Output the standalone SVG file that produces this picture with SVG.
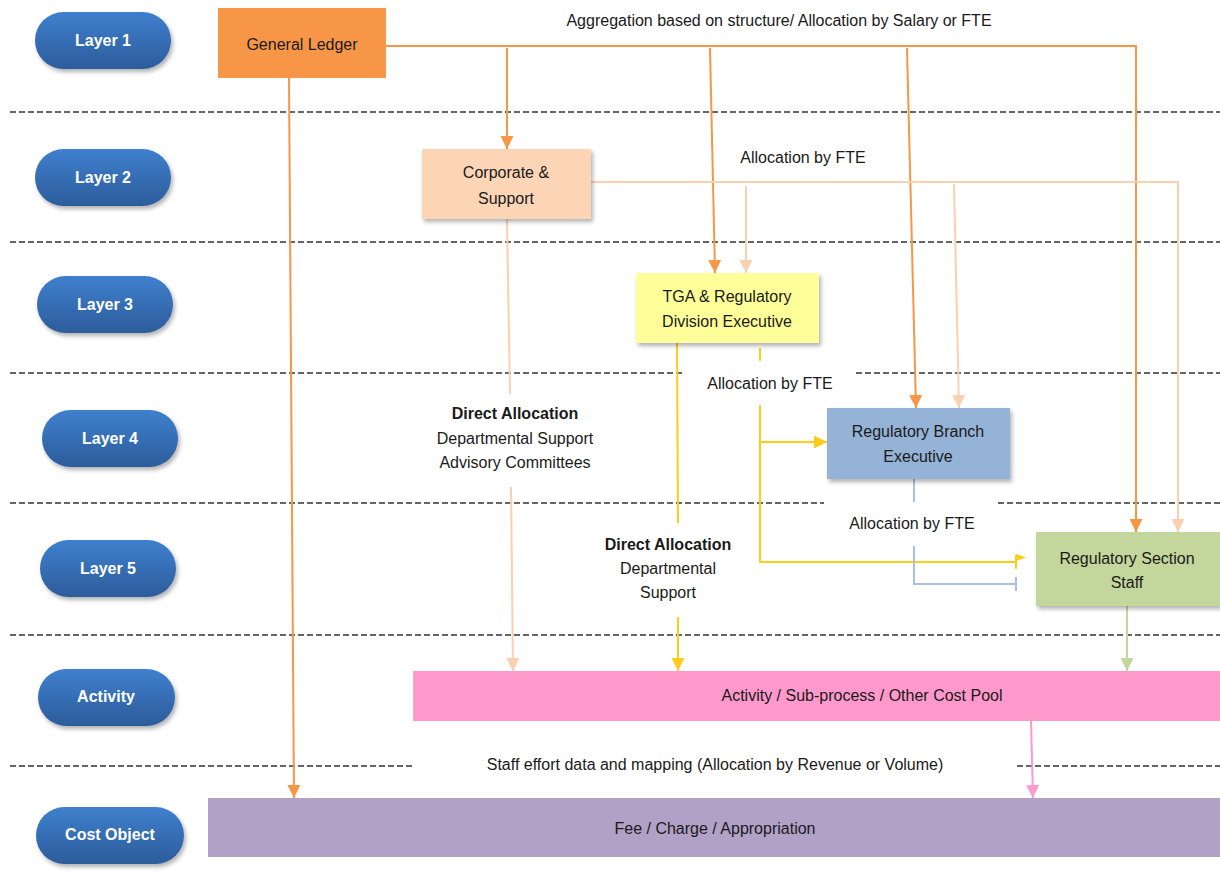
<svg xmlns="http://www.w3.org/2000/svg" width="1220" height="892" viewBox="0 0 1220 892">
<defs>
<linearGradient id="pillGrad" x1="0" y1="0" x2="0" y2="1">
<stop offset="0" stop-color="#3F80CE"/>
<stop offset="1" stop-color="#2C5C9B"/>
</linearGradient>
<filter id="shadow" x="-10%" y="-10%" width="125%" height="140%">
<feDropShadow dx="2" dy="3" stdDeviation="2" flood-color="#000" flood-opacity="0.3"/>
</filter>
<marker id="aOrange" markerUnits="userSpaceOnUse" markerWidth="13" markerHeight="13" refX="13" refY="6.5" orient="auto"><path d="M0,0 L13,6.5 L0,13 z" fill="#F79646"/></marker>
<marker id="aPeach" markerUnits="userSpaceOnUse" markerWidth="13" markerHeight="13" refX="13" refY="6.5" orient="auto"><path d="M0,0 L13,6.5 L0,13 z" fill="#FAD0B0"/></marker>
<marker id="aYellow" markerUnits="userSpaceOnUse" markerWidth="13" markerHeight="13" refX="13" refY="6.5" orient="auto"><path d="M0,0 L13,6.5 L0,13 z" fill="#FFCC1A"/></marker>
<marker id="aGreen" markerUnits="userSpaceOnUse" markerWidth="13" markerHeight="13" refX="13" refY="6.5" orient="auto"><path d="M0,0 L13,6.5 L0,13 z" fill="#C3D69B"/></marker>
<marker id="aPink" markerUnits="userSpaceOnUse" markerWidth="13" markerHeight="13" refX="13" refY="6.5" orient="auto"><path d="M0,0 L13,6.5 L0,13 z" fill="#FF99CC"/></marker>
</defs>
<style>
text { font-family: "Liberation Sans", Arial, sans-serif; font-size: 16px; fill: #1a1a1a; text-anchor: middle; }
.pill { fill: url(#pillGrad); filter: url(#shadow); }
.pilltxt { fill: #ffffff; font-weight: bold; font-size: 16px; }
.bold { font-weight: bold; }
.lane { stroke: #333; stroke-width: 1.5; stroke-dasharray: 6 3; fill: none; }
.box { filter: url(#shadow); }
.c { fill: none; stroke-width: 2; }
.orange { stroke: #F79646; }
.peach { stroke: #FAD0B0; }
.yellow { stroke: #FFCC1A; }
.blue { stroke: #A9C1E0; }
.green { stroke: #C3D69B; }
.pink { stroke: #FF99CC; }
</style>
<rect x="0" y="0" width="1220" height="892" fill="#ffffff"/>

<g id="lanes">
<line class="lane" x1="10" y1="112" x2="1220" y2="112"/>
<line class="lane" x1="10" y1="242" x2="1220" y2="242"/>
<line class="lane" x1="10" y1="373" x2="683" y2="373"/>
<line class="lane" x1="856" y1="373" x2="1220" y2="373"/>
<line class="lane" x1="10" y1="503" x2="824" y2="503"/>
<line class="lane" x1="998" y1="503" x2="1220" y2="503"/>
<line class="lane" x1="10" y1="635" x2="1220" y2="635"/>
<line class="lane" x1="10" y1="766" x2="413" y2="766"/>
<line class="lane" x1="1017" y1="766" x2="1220" y2="766"/>
</g>

<g id="layer-labels">
<g id="pill-layer1"><rect class="pill" x="35" y="12" width="136" height="57" rx="28.5"/><text class="pilltxt" x="103" y="46">Layer 1</text></g>
<g id="pill-layer2"><rect class="pill" x="35" y="149" width="136" height="57" rx="28.5"/><text class="pilltxt" x="103" y="183">Layer 2</text></g>
<g id="pill-layer3"><rect class="pill" x="37" y="276" width="136" height="57" rx="28.5"/><text class="pilltxt" x="105" y="310">Layer 3</text></g>
<g id="pill-layer4"><rect class="pill" x="42" y="410" width="136" height="57" rx="28.5"/><text class="pilltxt" x="110" y="444">Layer 4</text></g>
<g id="pill-layer5"><rect class="pill" x="40" y="540" width="136" height="57" rx="28.5"/><text class="pilltxt" x="108" y="574">Layer 5</text></g>
<g id="pill-activity"><rect class="pill" x="38" y="669" width="137" height="57" rx="28.5"/><text class="pilltxt" x="106" y="702">Activity</text></g>
<g id="pill-costobject"><rect class="pill" x="36" y="807" width="148" height="57" rx="28.5"/><text class="pilltxt" x="110" y="840">Cost Object</text></g>
</g>

<g id="connectors">
<!-- General Ledger -->
<line class="c orange" x1="289" y1="78" x2="294" y2="798" marker-end="url(#aOrange)"/>
<path class="c orange" d="M386,46 H1136 V532" marker-end="url(#aOrange)"/>
<line class="c orange" x1="507" y1="48" x2="507" y2="149" marker-end="url(#aOrange)"/>
<line class="c orange" x1="710" y1="48" x2="715" y2="273" marker-end="url(#aOrange)"/>
<line class="c orange" x1="907" y1="48" x2="916" y2="408" marker-end="url(#aOrange)"/>
<!-- Corporate & Support -->
<path class="c peach" d="M591,182 H1178 V532" marker-end="url(#aPeach)"/>
<line class="c peach" x1="746" y1="186" x2="746" y2="273" marker-end="url(#aPeach)"/>
<line class="c peach" x1="954" y1="184" x2="959" y2="408" marker-end="url(#aPeach)"/>
<line class="c peach" x1="507" y1="219" x2="510" y2="394"/>
<line class="c peach" x1="511" y1="487" x2="513" y2="671" marker-end="url(#aPeach)"/>
<!-- TGA & Regulatory Division Executive -->
<line class="c yellow" x1="677" y1="343" x2="678" y2="523"/>
<line class="c yellow" x1="678" y1="617" x2="678" y2="671" marker-end="url(#aYellow)"/>
<line class="c yellow" x1="760" y1="348" x2="760" y2="361"/>
<path class="c yellow" d="M760,405 V562 H1016"/>
<line class="c yellow" x1="760" y1="442" x2="827" y2="442" marker-end="url(#aYellow)"/>
<line class="c yellow" x1="1016" y1="555" x2="1016" y2="569"/>
<path d="M1016,554 L1026,557.5 L1016,561 z" fill="#FFCC1A"/>
<!-- Regulatory Branch Executive -->
<line class="c blue" x1="914" y1="479" x2="914" y2="502"/>
<path class="c blue" d="M914,546 V584 H1016"/>
<line class="c blue" x1="1016" y1="577" x2="1016" y2="591"/>
<!-- Regulatory Section Staff -->
<line class="c green" x1="1127" y1="606" x2="1127" y2="671" marker-end="url(#aGreen)"/>
<!-- Activity -->
<line class="c pink" x1="1031" y1="721" x2="1033" y2="798" marker-end="url(#aPink)"/>
</g>

<g id="node-general-ledger">
<rect x="218" y="8" width="168" height="70" fill="#F79646"/>
<text x="302" y="50">General Ledger</text>
</g>
<g id="node-corporate-support">
<rect class="box" x="422" y="149" width="169" height="70" fill="#FBD5B5"/>
<text x="506" y="178">Corporate &amp;</text>
<text x="506" y="204">Support</text>
</g>
<g id="node-tga-division">
<rect class="box" x="636" y="273" width="183" height="70" fill="#FFFF99"/>
<text x="727" y="302">TGA &amp; Regulatory</text>
<text x="727" y="327">Division Executive</text>
</g>
<g id="node-branch-executive">
<rect class="box" x="827" y="408" width="183" height="71" fill="#95B3D7"/>
<text x="918" y="437">Regulatory Branch</text>
<text x="918" y="462">Executive</text>
</g>
<g id="node-section-staff">
<rect class="box" x="1036" y="532" width="184" height="74" fill="#C3D69B"/>
<text x="1127" y="564">Regulatory Section</text>
<text x="1127" y="588">Staff</text>
</g>
<g id="node-activity">
<rect x="413" y="671" width="807" height="50" fill="#FF99CC"/>
<text x="862" y="701">Activity / Sub-process / Other Cost Pool</text>
</g>
<g id="node-cost-object">
<rect x="208" y="798" width="1012" height="59" fill="#B2A1C7"/>
<text x="715" y="834">Fee / Charge / Appropriation</text>
</g>

<g id="labels">
<text x="779" y="26">Aggregation based on structure/ Allocation by Salary or FTE</text>
<text x="803" y="163">Allocation by FTE</text>
<text x="770" y="389">Allocation by FTE</text>
<text x="912" y="529">Allocation by FTE</text>
<text class="bold" x="515" y="419">Direct Allocation</text>
<text x="515" y="444">Departmental Support</text>
<text x="515" y="468">Advisory Committees</text>
<text class="bold" x="668" y="550">Direct Allocation</text>
<text x="668" y="574">Departmental</text>
<text x="668" y="598">Support</text>
<text x="715" y="770">Staff effort data and mapping (Allocation by Revenue or Volume)</text>
</g>
</svg>
